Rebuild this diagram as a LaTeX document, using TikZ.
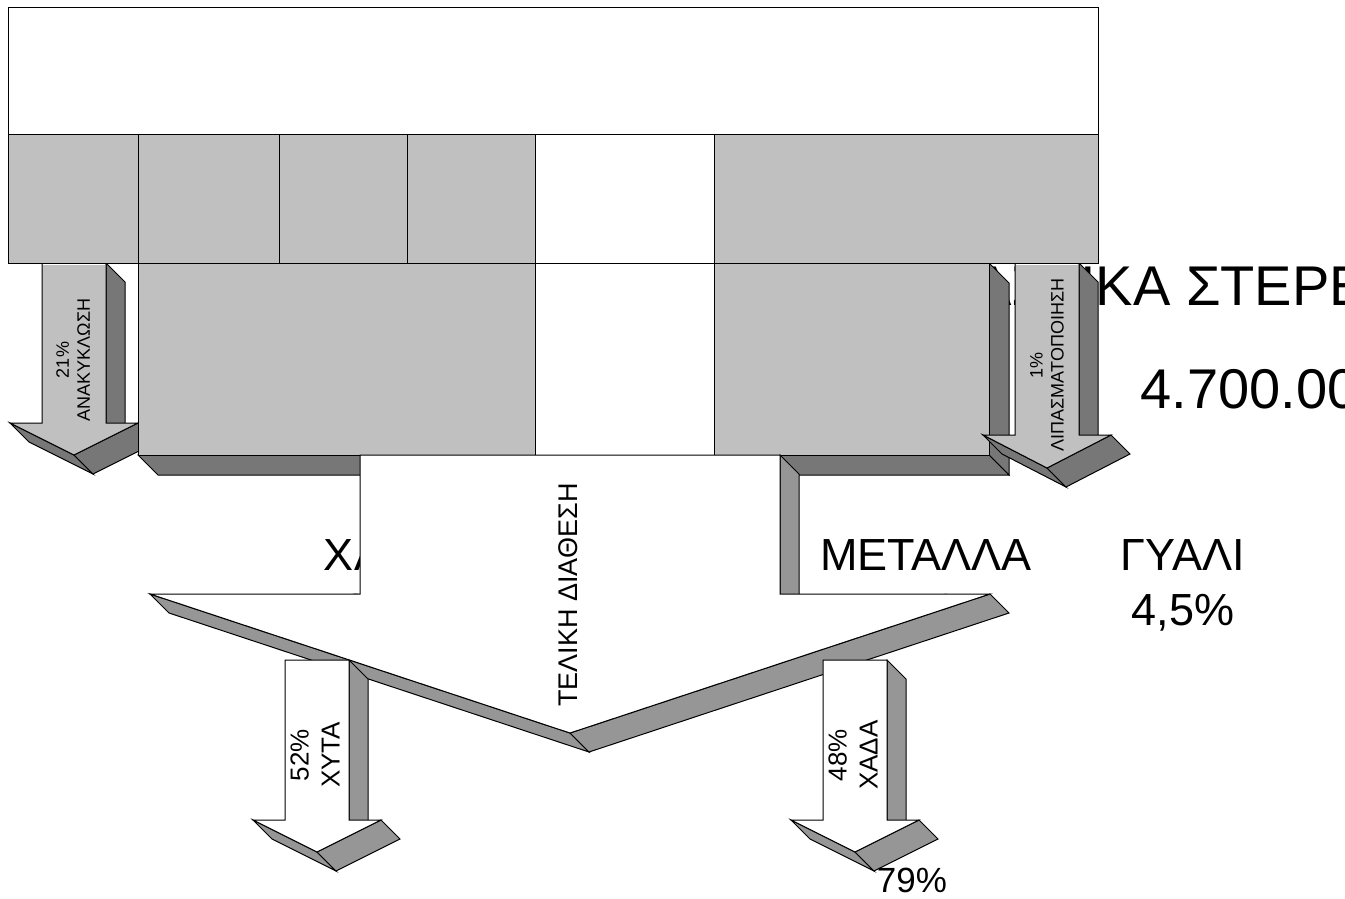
\documentclass[tikz,border=0pt]{standalone}
\usepackage{fontspec}
\setmainfont{Liberation Sans}
\definecolor{lg}{HTML}{C0C0C0}
\definecolor{dg}{HTML}{777777}
\definecolor{mg}{HTML}{969696}
\tikzset{
  ln/.style={draw=black, line width=1pt, line join=miter},
  cellg/.style={ln, fill=lg},
  cellw/.style={ln, fill=white},
  darkface/.style={ln, fill=dg},
  midface/.style={ln, fill=mg},
  bigt/.style={inner sep=0pt, font=\fontsize{56}{60}\selectfont},
  lbl/.style={inner sep=0pt, font=\fontsize{45}{55}\selectfont, anchor=base},
  arrlbl/.style={inner sep=0pt, rotate=90, align=center},
  toplight/.style={draw=white, line width=1.5pt}
}
\begin{document}
\begin{tikzpicture}[x=1pt,y=-1pt]
\useasboundingbox (0,0) rectangle (1345,899);
\clip (0,0) rectangle (1345,899);
\fill[white] (0,0) rectangle (1345,899);

% texts lying behind the shapes
\node[bigt, anchor=base west] (title) at (974,305) {ΑΣΤΙΚΑ ΣΤΕΡΕΑ};
\node[bigt, anchor=base west] (qty) at (1140.5,408) {4.700.000};
\node[lbl] (paper) at (389,570) {ΧΑΡΤΙ};
\node[lbl] (paperp) at (389,625) {20\%};
\node[lbl] (metal) at (926,570) {ΜΕΤΑΛΛΑ};
\node[lbl] (metalp) at (926,625) {4,5\%};
\node[lbl] (glass) at (1183,570) {ΓΥΑΛΙ};
\node[lbl] (glassp) at (1183,625) {4,5\%};

% recycling arrow (21%)
\draw[darkface] (106,263) -- (125,282) -- (125,442) -- (106,423) -- cycle;
\draw[darkface] (10,423) -- (74,455) -- (93,474) -- (29,442) -- cycle;
\draw[darkface] (74,455) -- (138,423) -- (157,442) -- (93,474) -- cycle;
\draw[ln, fill=lg] (42,263) -- (106,263) -- (106,423) -- (138,423) -- (74,455) -- (10,423) -- (42,423) -- cycle;
\draw[toplight] (43,264.5) -- (105,264.5);
\node[arrlbl, font=\fontsize{18}{21}\selectfont] (recl) at (73,360) {21\%\\ΑΝΑΚΥΚΛΩΣΗ};

% third row with its depth
\draw[darkface] (989,263) -- (1009,283) -- (1009,475) -- (989,455) -- cycle;
\draw[darkface] (138,455) -- (989,455) -- (1009,475) -- (158,475) -- cycle;
\draw[cellg] (138,263) rectangle (535,455);
\draw[cellw] (535,263) rectangle (714,455);
\draw[cellg] (714,263) rectangle (989,455);

% composting arrow (1%)
\draw[darkface] (1079,263) -- (1098,282) -- (1098,454) -- (1079,435) -- cycle;
\draw[darkface] (983,435) -- (1047,468) -- (1066,487) -- (1002,454) -- cycle;
\draw[darkface] (1047,468) -- (1111,435) -- (1130,454) -- (1066,487) -- cycle;
\draw[ln, fill=lg] (1015,263) -- (1079,263) -- (1079,435) -- (1111,435) -- (1047,468) -- (983,435) -- (1015,435) -- cycle;
\draw[toplight] (1016,264.5) -- (1078,264.5);
\node[arrlbl, font=\fontsize{18}{21}\selectfont] (compl) at (1047,365) {1\%\\ΛΙΠΑΣΜΑΤΟΠΟΙΗΣΗ};

% first and second rows
\draw[cellw] (8,8) rectangle (1098,134);
\draw[cellg] (8,134) rectangle (138,263);
\draw[cellg] (138,134) rectangle (279,263);
\draw[cellg] (279,134) rectangle (407,263);
\draw[cellg] (407,134) rectangle (535,263);
\draw[cellw] (535,134) rectangle (714,263);
\draw[cellg] (714,134) rectangle (1098,263);

% big arrow: final disposal
\draw[midface] (780,455) -- (799,474) -- (799,613) -- (780,594) -- cycle;
\draw[midface] (150,594) -- (570,733) -- (589,752) -- (169,613) -- cycle;
\draw[midface] (570,733) -- (990,594) -- (1009,613) -- (589,752) -- cycle;
\draw[ln, fill=white] (360,455) -- (780,455) -- (780,594) -- (990,594) -- (570,733) -- (150,594) -- (360,594) -- cycle;
\node[arrlbl, font=\fontsize{27}{30}\selectfont] (final) at (568,595) {ΤΕΛΙΚΗ ΔΙΑΘΕΣΗ};

% landfill arrow (52%)
\draw[midface] (349,660) -- (368,679) -- (368,839) -- (349,820) -- cycle;
\draw[midface] (253,820) -- (317,852) -- (336,871) -- (272,839) -- cycle;
\draw[midface] (317,852) -- (381,820) -- (400,839) -- (336,871) -- cycle;
\draw[ln, fill=white] (285,660) -- (349,660) -- (349,820) -- (381,820) -- (317,852) -- (253,820) -- (285,820) -- cycle;
\node[arrlbl, font=\fontsize{26}{31}\selectfont] (xyta) at (315,755) {52\%\\ΧΥΤΑ};

% dump arrow (48%)
\draw[midface] (887,660) -- (906,679) -- (906,839) -- (887,820) -- cycle;
\draw[midface] (791,820) -- (855,852) -- (874,871) -- (810,839) -- cycle;
\draw[midface] (855,852) -- (919,820) -- (938,839) -- (874,871) -- cycle;
\draw[ln, fill=white] (823,660) -- (887,660) -- (887,820) -- (919,820) -- (855,852) -- (791,820) -- (823,820) -- cycle;
\node[arrlbl, font=\fontsize{26}{31}\selectfont] (xada) at (853,755) {48\%\\ΧΑΔΑ};

\node[inner sep=0pt, anchor=base, font=\fontsize{35}{40}\selectfont] (share) at (912,892) {79\%};
\end{tikzpicture}
\end{document}
